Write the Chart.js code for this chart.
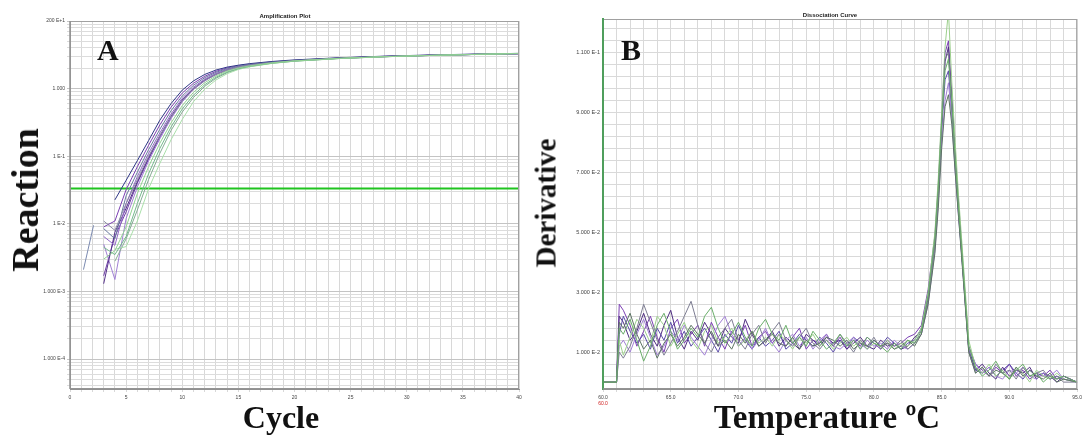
<!DOCTYPE html>
<html>
<head>
<meta charset="utf-8">
<script src="https://cdn.jsdelivr.net/npm/chart.js@4.4.1/dist/chart.umd.min.js"></script>
<style>
  body { margin:0; background:#fff; width:1085px; height:436px; position:relative; overflow:hidden; }
  canvas { position:absolute; top:0; }
  .big { position:absolute; font-family:'Liberation Serif','Times New Roman',serif; font-weight:bold; color:#111; white-space:nowrap; line-height:1; }
  .rot { transform:translate(-50%,-50%) rotate(-90deg); }
  .ctr { transform:translateX(-50%); }
  .small { position:absolute; font-family:'Liberation Sans',Arial,sans-serif; font-weight:bold; font-size:6px; color:#222; white-space:nowrap; transform:translateX(-50%); }
</style>
</head>
<body>
<canvas id="ampChart" width="540" height="436" style="left:0"></canvas>
<canvas id="dissChart" width="545" height="436" style="left:540px"></canvas>

<div class="small" style="left:285px;top:13px">Amplification Plot</div>
<div class="small" style="left:830px;top:12px">Dissociation Curve</div>
<div class="big" style="left:97px;top:35px;font-size:30px">A</div>
<div class="big" style="left:621px;top:35px;font-size:30px">B</div>
<div class="big rot" style="left:25px;top:200px;font-size:38px">Reaction</div>
<div class="big rot" style="left:546px;top:203px;font-size:29px">Derivative</div>
<div class="big ctr" style="left:281px;top:401px;font-size:32px">Cycle</div>
<div class="big ctr" style="left:827px;top:401px;font-size:33px">Temperature ºC</div>
<div class="small" style="left:603px;top:400px;font-weight:normal;font-size:5px;color:#d02020">60.0</div>

<script>
// ---------- Panel A : amplification plot ----------
const cycles = [3, 4, 5, 6, 7, 8, 9, 10, 11, 12, 13, 14, 15, 16, 18, 20, 24, 28, 32, 36, 40];
const amp1  = [null, 0.0226, 0.044, 0.086, 0.17, 0.34, 0.6, 0.95, 1.3, 1.62, 1.88, 2.08, 2.22, 2.34, 2.52, 2.66, 2.86, 3.02, 3.14, 3.24, 3.32];
const amp2  = [0.009, 0.011, 0.032, 0.07, 0.145, 0.29, 0.53, 0.86, 1.2, 1.52, 1.8, 2.02, 2.18, 2.3, 2.48, 2.62, 2.84, 3.0, 3.12, 3.22, 3.3];
const amp3  = [0.0085, 0.006, 0.026, 0.058, 0.125, 0.25, 0.47, 0.78, 1.12, 1.45, 1.74, 1.97, 2.14, 2.27, 2.46, 2.61, 2.83, 2.99, 3.11, 3.21, 3.3];
const amp4  = [0.0065, 0.0048, 0.02, 0.05, 0.11, 0.22, 0.42, 0.72, 1.05, 1.38, 1.68, 1.92, 2.1, 2.24, 2.44, 2.6, 2.82, 2.98, 3.1, 3.2, 3.28];
const amp5  = [0.0013, 0.0075, 0.017, 0.042, 0.095, 0.2, 0.39, 0.68, 1.0, 1.34, 1.64, 1.9, 2.08, 2.22, 2.43, 2.59, 2.82, 2.98, 3.1, 3.2, 3.28];
const amp6  = [0.005, 0.0015, 0.012, 0.035, 0.085, 0.18, 0.36, 0.64, 0.97, 1.3, 1.62, 1.88, 2.06, 2.2, 2.42, 2.58, 2.81, 2.97, 3.09, 3.19, 3.27];
const amp7  = [0.011, 0.008, 0.02, 0.045, 0.1, 0.2, 0.38, 0.66, 0.99, 1.32, 1.63, 1.88, 2.07, 2.21, 2.42, 2.58, 2.81, 2.97, 3.1, 3.2, 3.3];
const amp8  = [0.003, 0.004, 0.009, 0.028, 0.07, 0.155, 0.31, 0.56, 0.88, 1.22, 1.54, 1.82, 2.02, 2.17, 2.4, 2.57, 2.8, 2.97, 3.09, 3.2, 3.3];
const amp9  = [0.0045, 0.0035, 0.0065, 0.02, 0.055, 0.13, 0.27, 0.5, 0.8, 1.14, 1.47, 1.76, 1.98, 2.14, 2.38, 2.55, 2.79, 2.96, 3.09, 3.2, 3.3];
const amp10 = [null, 0.0042, 0.0046, 0.011, 0.033, 0.078, 0.175, 0.35, 0.64, 0.98, 1.34, 1.66, 1.92, 2.1, 2.36, 2.54, 2.78, 2.96, 3.09, 3.2, 3.32];
const amp11 = [null, 0.0028, 0.006, 0.016, 0.045, 0.11, 0.24, 0.45, 0.74, 1.08, 1.42, 1.72, 1.95, 2.12, 2.37, 2.55, 2.79, 2.96, 3.09, 3.2, 3.3];
const amp12 = [0.0017, 0.0065, 0.015, 0.04, 0.09, 0.19, 0.37, 0.65, 0.98, 1.31, 1.62, 1.88, 2.06, 2.2, 2.42, 2.58, 2.81, 2.97, 3.1, 3.2, 3.28];
const strayCycles = [1.2, 2.1];
const strayValues = [0.0021, 0.0095];
const threshold = 0.0333;

const ampSeries = [amp8, amp9, amp10, amp11, amp7, amp3, amp1, amp2, amp4, amp5, amp6, amp12];
const ampColors = ['#93d293', '#74b98c', '#a9dfa9', '#86ad94', '#8c8ca6', '#6a7aa0', '#2e3585', '#7b3fb3', '#9168c8', '#55308a', '#a07fd4', '#6d3da6'];

const ampTickValues = [10, 1, 0.1, 0.01, 0.001, 0.0001];
const ampTickLabels = ['200 E+1', '1.000', '1 E-1', '1 E-2', '1.000 E-3', '1.000 E-4'];

// ---------- Panel B : dissociation curve (derivative in units of 1e-3) ----------
const temps = [60, 61, 61.2,
  61.5, 62, 62.5, 63, 63.5, 64, 64.5, 65, 65.5, 66, 66.5, 67, 67.5, 68, 68.5, 69, 69.5, 70, 70.5, 71, 71.5, 72,
  72.5, 73, 73.5, 74, 74.5, 75, 75.5, 76, 76.5, 77, 77.5, 78, 78.5, 79, 79.5, 80, 80.5, 81, 81.5, 82, 82.5, 83,
  83.5, 84, 84.5, 84.75, 85, 85.25, 85.5, 85.75, 86, 86.25, 86.5, 87,
  87.5, 88, 88.5, 89, 89.5, 90, 90.5, 91, 91.5, 92, 92.5, 93, 93.5, 94, 95];
const deriv1 = [0, 0, 14,
  9, 15, 21, 18, 13, 22, 19, 12, 16, 20, 14, 11, 17, 19, 13, 15, 18, 12, 14, 17, 13, 15, 12, 16, 14, 11, 15, 13, 16, 12, 14, 11, 13, 15, 12, 14, 11, 13, 12, 14, 11, 13, 12, 14,
  18, 30, 50, 68, 90, 112, 124, 100, 80, 62, 46, 14,
  5, 3, 6, 2, 4, 1, 5, 3, 0, 4, 2, 1, 3, 1, 0];
const deriv2 = [0, 0, 26,
  24, 19, 12, 17, 22, 15, 10, 18, 21, 13, 16, 19, 12, 20, 15, 11, 17, 14, 19, 12, 15, 17, 13, 16, 12, 15, 18, 11, 14, 13, 16, 12, 15, 11, 14, 12, 15, 13, 11, 14, 12, 13, 15, 16,
  19, 31, 49, 66, 88, 110, 114, 96, 76, 60, 44, 12,
  6, 4, 2, 5, 3, 6, 2, 4, 1, 3, 2, 4, 1, 2, 0];
const deriv3 = [0, 0, 22,
  20, 14, 17, 23, 16, 12, 19, 24, 15, 11, 17, 14, 20, 16, 12, 18, 15, 13, 21, 16, 12, 14, 17, 12, 15, 13, 11, 16, 14, 12, 15, 13, 14, 11, 13, 15, 12, 11, 14, 12, 13, 11, 12, 15,
  17, 28, 47, 64, 86, 107, 112, 94, 74, 58, 42, 11,
  4, 6, 3, 1, 5, 2, 4, 3, 5, 1, 3, 2, 0, 2, 0];
const deriv4 = [0, 0, 10,
  8, 12, 18, 26, 20, 14, 9, 13, 17, 22, 27, 19, 13, 10, 15, 18, 21, 14, 11, 16, 19, 13, 17, 20, 14, 12, 15, 18, 13, 11, 14, 12, 16, 13, 10, 14, 12, 15, 11, 13, 12, 14, 11, 13,
  16, 27, 46, 63, 85, 108, 110, 92, 73, 57, 41, 10,
  3, 5, 2, 6, 3, 4, 1, 5, 2, 3, 4, 1, 2, 0, 0];
const deriv5 = [0, 0, 18,
  16, 21, 14, 7, 12, 19, 23, 17, 11, 14, 18, 15, 22, 25, 18, 13, 16, 20, 15, 12, 18, 21, 16, 14, 19, 13, 15, 12, 17, 14, 11, 13, 16, 12, 14, 11, 15, 13, 12, 10, 13, 11, 14, 13,
  17, 29, 48, 65, 87, 104, 108, 93, 75, 58, 43, 12,
  5, 2, 4, 7, 3, 1, 4, 6, 2, 3, 0, 2, 1, 2, 0];
const deriv6 = [0, 0, 16,
  22, 17, 13, 16, 11, 18, 14, 20, 13, 17, 12, 15, 18, 14, 10, 16, 13, 19, 14, 11, 15, 12, 14, 17, 11, 13, 16, 14, 12, 15, 13, 10, 14, 12, 15, 13, 11, 14, 12, 15, 13, 11, 13, 14,
  18, 29, 47, 63, 84, 101, 104, 90, 72, 56, 42, 11,
  4, 3, 5, 2, 4, 6, 3, 1, 4, 2, 3, 1, 2, 1, 0];
const deriv7 = [0, 0, 12,
  14, 10, 16, 21, 15, 9, 12, 17, 14, 19, 15, 12, 9, 14, 19, 22, 16, 12, 15, 11, 14, 18, 13, 10, 14, 16, 12, 15, 11, 14, 16, 12, 11, 13, 15, 11, 14, 12, 13, 11, 14, 12, 11, 13,
  16, 26, 44, 60, 80, 94, 100, 88, 70, 55, 41, 11,
  6, 3, 5, 2, 1, 4, 3, 5, 2, 1, 3, 2, 4, 1, 0];
const deriv8 = [0, 0, 20,
  18, 23, 16, 11, 14, 8, 13, 16, 12, 15, 19, 16, 13, 17, 12, 14, 11, 16, 13, 17, 12, 14, 16, 13, 12, 15, 11, 14, 12, 13, 15, 14, 12, 14, 11, 13, 12, 14, 12, 13, 11, 12, 14, 12,
  16, 26, 43, 58, 78, 92, 96, 86, 70, 55, 40, 10,
  3, 5, 2, 4, 3, 1, 5, 2, 4, 2, 1, 3, 0, 1, 0];

const dissSeries = [deriv5, deriv8, deriv4, deriv1, deriv7, deriv6, deriv3, deriv2];
const dissColors = ['#6aae6a', '#5d7464', '#7d7d92', '#9ccf8c', '#a07fd4', '#5a4aa8', '#4f2d80', '#7b3fb3'];

const dissTickValues = [10, 30, 50, 70, 90, 110];
const dissTickLabels = ['1.000 E-2', '3.000 E-2', '5.000 E-2', '7.000 E-2', '9.000 E-2', '1.100 E-1'];

// ---------- shared bits ----------
const tickFont = { family: "'Liberation Sans', Arial, sans-serif", size: 5 };

const framePlugin = {
  id: 'frame',
  afterDraw(chart, args, opts) {
    const a = chart.chartArea, ctx = chart.ctx;
    ctx.save();
    ctx.strokeStyle = '#a0a0a0';
    ctx.lineWidth = 1;
    ctx.strokeRect(a.left + 0.5, a.top + 0.5, a.right - a.left - 1, a.bottom - a.top - 1);
    ctx.strokeStyle = opts.leftColor || '#909090';
    ctx.lineWidth = opts.leftWidth || 1.5;
    ctx.beginPath();
    ctx.moveTo(a.left, a.top);
    ctx.lineTo(a.left, a.bottom);
    ctx.stroke();
    ctx.beginPath();
    ctx.strokeStyle = '#909090';
    ctx.lineWidth = 1.5;
    ctx.moveTo(a.left, a.bottom);
    ctx.lineTo(a.right, a.bottom);
    ctx.stroke();
    ctx.restore();
  }
};

function isNear(v, list) {
  return list.findIndex(t => Math.abs(v / t - 1) < 1e-6);
}

// ---------- chart A ----------
const ampDatasets = ampSeries.map((vals, i) => ({
  data: cycles.map((c, j) => ({ x: c, y: vals[j] })),
  borderColor: ampColors[i],
  borderWidth: 1,
  pointRadius: 0,
  tension: 0
}));
ampDatasets.unshift({
  data: strayCycles.map((c, j) => ({ x: c, y: strayValues[j] })),
  borderColor: '#7b8ab0', borderWidth: 1, pointRadius: 0
});
ampDatasets.push({
  data: [{ x: 0, y: threshold }, { x: 40, y: threshold }],
  borderColor: '#1fc41f', borderWidth: 2, pointRadius: 0
});

new Chart(document.getElementById('ampChart'), {
  type: 'line',
  data: { datasets: ampDatasets },
  plugins: [framePlugin],
  options: {
    responsive: false,
    animation: false,
    layout: { padding: { top: 21, right: 21, left: 0, bottom: 0 } },
    plugins: { legend: { display: false }, tooltip: { enabled: false }, frame: { leftColor: '#909090' } },
    scales: {
      x: {
        type: 'linear', min: 0, max: 40,
        afterBuildTicks: s => { const t = []; for (let c = 0; c <= 40; c++) t.push({ value: c }); s.ticks = t; },
        afterFit: s => { s.height = 47; },
        ticks: { autoSkip: false, maxRotation: 0, padding: 3, color: '#444', font: tickFont,
                 callback: v => (v % 5 === 0 ? String(v) : '') },
        grid: { color: '#d8d8d8', tickLength: 3 },
        border: { color: '#909090' }
      },
      y: {
        type: 'logarithmic', min: 3.6e-5, max: 10,
        afterBuildTicks: s => {
          const t = [];
          for (let e = -5; e <= 0; e++) {
            for (let m = 1; m <= 9; m++) {
              const v = m * Math.pow(10, e);
              if (v >= s.min && v <= s.max) t.push({ value: v });
            }
          }
          t.push({ value: 10 });
          s.ticks = t;
        },
        afterFit: s => { s.width = 70; },
        ticks: { autoSkip: false, padding: 2, color: '#444', font: tickFont,
                 callback: v => { const k = isNear(v, ampTickValues); return k >= 0 ? ampTickLabels[k] : ''; } },
        grid: { color: c => (isNear(c.tick.value, ampTickValues) >= 0 ? '#c4c4c4' : '#dcdcdc'), tickLength: 3 },
        border: { color: '#909090' }
      }
    }
  }
});

// ---------- chart B ----------
const dissDatasets = dissSeries.map((vals, i) => ({
  data: temps.map((t, j) => ({ x: t, y: vals[j] })),
  borderColor: dissColors[i],
  borderWidth: 1,
  pointRadius: 0,
  tension: 0
}));

new Chart(document.getElementById('dissChart'), {
  type: 'line',
  data: { datasets: dissDatasets },
  plugins: [framePlugin],
  options: {
    responsive: false,
    animation: false,
    layout: { padding: { top: 19, right: 6, left: 0, bottom: 0 } },
    plugins: { legend: { display: false }, tooltip: { enabled: false }, frame: { leftColor: '#4f9e5c', leftWidth: 2 } },
    scales: {
      x: {
        type: 'linear', min: 60, max: 95,
        afterBuildTicks: s => { const t = []; for (let c = 60; c <= 95; c++) t.push({ value: c }); s.ticks = t; },
        afterFit: s => { s.height = 47; },
        ticks: { autoSkip: false, maxRotation: 0, padding: 3, color: '#444', font: tickFont,
                 callback: v => (v % 5 === 0 ? v.toFixed(1) : '') },
        grid: { color: '#d9d9d9', tickLength: 3 },
        border: { color: '#909090' }
      },
      y: {
        type: 'linear', min: -2.3, max: 121.3,
        afterBuildTicks: s => { const t = []; for (let v = -2; v <= 118; v += 4) t.push({ value: v }); s.ticks = t; },
        afterFit: s => { s.width = 63; },
        ticks: { autoSkip: false, padding: 3, color: '#444', font: { family: tickFont.family, size: 5.5 },
                 callback: v => { const k = dissTickValues.indexOf(Math.round(v)); return k >= 0 && Math.abs(v - dissTickValues[k]) < 1e-6 ? dissTickLabels[k] : ''; } },
        grid: { color: '#d9d9d9', drawTicks: false },
        border: { color: '#4f9e5c', width: 2 }
      }
    }
  }
});
</script>
</body>
</html>
